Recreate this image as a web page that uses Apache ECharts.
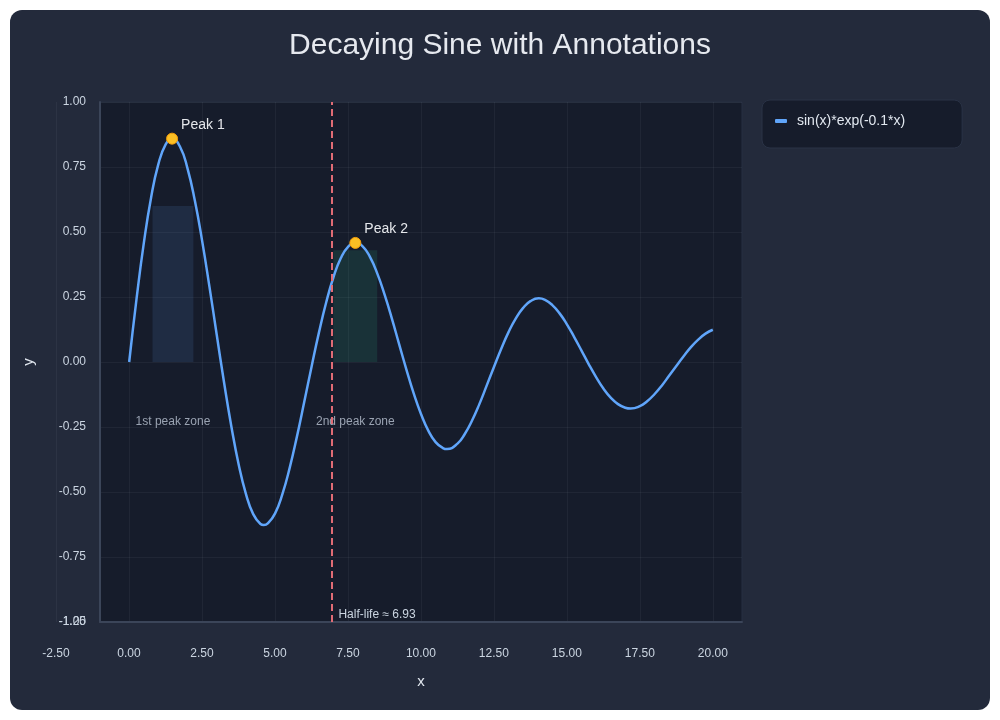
<!DOCTYPE html>
<html>
<head>
<meta charset="utf-8">
<title>Decaying Sine with Annotations</title>
<script src="https://cdn.jsdelivr.net/npm/echarts@6/dist/echarts.min.js"></script>
<style>
    html, body { margin: 0; padding: 0; background: #ffffff; }
    #chart {
        position: absolute;
        left: 10px;
        top: 10px;
        width: 980px;
        height: 700px;
        border-radius: 12px;
        background: #232a3b;
        overflow: hidden;
    }
</style>
</head>
<body>
<div id="chart"></div>
<script>
// x samples and sin(x)*exp(-0.1*x) (crests and troughs included)
const xValues = [
    0, 0.25, 0.5, 0.75, 1, 1.25, 1.471, 1.75, 2, 2.25, 2.5, 2.75, 3, 3.25, 3.5, 3.75,
    4, 4.25, 4.5, 4.613, 4.75, 5, 5.25, 5.5, 5.75, 6, 6.25, 6.5, 6.75, 7, 7.25, 7.5, 7.754,
    8, 8.25, 8.5, 8.75, 9, 9.25, 9.5, 9.75, 10, 10.25, 10.5, 10.75, 10.896, 11.25, 11.5, 11.75,
    12, 12.25, 12.5, 12.75, 13, 13.25, 13.5, 13.75, 14.037, 14.25, 14.5, 14.75, 15, 15.25, 15.5, 15.75,
    16, 16.25, 16.5, 16.75, 17, 17.179, 17.5, 17.75, 18, 18.25, 18.5, 18.75, 19, 19.25, 19.5, 19.75, 20
];
const yValues = [
    0, 0.241, 0.456, 0.632, 0.761, 0.837, 0.859, 0.826, 0.744, 0.621, 0.466, 0.290, 0.105, -0.078, -0.247, -0.393,
    -0.507, -0.585, -0.623, -0.627, -0.621, -0.582, -0.508, -0.407, -0.286, -0.153, -0.018, 0.112, 0.229, 0.326, 0.399, 0.443, 0.458,
    0.445, 0.404, 0.341, 0.260, 0.168, 0.069, -0.029, -0.121, -0.200, -0.264, -0.308, -0.331, -0.335, -0.314, -0.277, -0.225,
    -0.162, -0.091, -0.019, 0.051, 0.115, 0.168, 0.208, 0.234, 0.245, 0.239, 0.219, 0.187, 0.145, 0.096, 0.044, -0.009,
    -0.058, -0.102, -0.137, -0.162, -0.176, -0.179, -0.170, -0.151, -0.124, -0.091, -0.053, -0.015, 0.022, 0.057, 0.086, 0.109, 0.124
];

const peakNames = ['Peak 1', 'Peak 2'];
const peakX = [1.47, 7.75];
const peakY = [0.859, 0.458];

const zoneNames = ['1st peak zone', '2nd peak zone'];
const zoneStart = [0.8, 7.0];
const zoneEnd = [2.2, 8.5];
const zoneTop = [0.6, 0.43];
const zoneColors = ['rgba(96, 165, 250, 0.12)', 'rgba(52, 211, 153, 0.12)'];

const halfLife = 6.93;

// axis ranges: plot runs from -1 to 21, tick labels every 2.5 from -2.5
const xRange = [-1, 21];
const xTickRange = [-2.5, 21];
const xTickStep = 2.5;
const yRange = [-1, 1];
const yTickStep = 0.25;
const yExtraLabel = -1.25;

const chart = echarts.init(document.getElementById('chart'));

const seriesData = xValues.map((x, i) => [x, yValues[i]]);

const labelFont = 'Liberation Sans';
const gridLineColor = 'rgba(148, 163, 184, 0.08)';
const fmt2 = (v) => v.toFixed(2);

const option = {
    backgroundColor: 'transparent',
    title: {
        text: 'Decaying Sine with Annotations',
        left: 'center',
        top: 16,
        textStyle: {
            color: '#e6e9ef',
            fontSize: 30,
            fontWeight: 'normal',
            fontFamily: labelFont,
        },
    },
    legend: {
        data: ['sin(x)*exp(-0.1*x)'],
        left: 752,
        top: 90,
        orient: 'vertical',
        backgroundColor: '#161c2b',
        borderColor: '#2a3346',
        borderWidth: 1,
        borderRadius: 8,
        padding: [14, 57, 20, 13],
        icon: 'roundRect',
        itemWidth: 12,
        itemHeight: 4,
        textStyle: {
            color: '#e2e8f0',
            fontSize: 14,
            fontFamily: labelFont,
            padding: [0, 0, 0, 5],
        },
    },
    grid: [
        {
            left: 90,
            right: 248,
            top: 92,
            bottom: 88,
            containLabel: false,
            outerBoundsMode: 'none',
            show: true,
            backgroundColor: '#161c2b',
            borderColor: '#262f42',
            borderWidth: 1,
        },
        {
            left: 46,
            right: 248,
            top: 92,
            bottom: 88,
            containLabel: false,
            outerBoundsMode: 'none',
            show: false,
        },
    ],
    xAxis: [
        {
            type: 'value',
            gridIndex: 0,
            name: 'x',
            nameLocation: 'middle',
            nameGap: 52,
            nameTextStyle: { color: '#e2e8f0', fontSize: 15, fontFamily: labelFont },
            min: xRange[0],
            max: xRange[1],
            axisLine: { show: true, onZero: false, lineStyle: { color: '#3b4559', width: 2 } },
            axisTick: { show: false },
            axisLabel: { show: false },
            splitLine: { show: false },
        },
        {
            type: 'value',
            gridIndex: 1,
            min: xTickRange[0],
            max: xTickRange[1],
            interval: xTickStep,
            axisLine: { show: false },
            axisTick: { show: false },
            axisLabel: {
                color: '#cbd5e1',
                fontSize: 12,
                margin: 26,
                showMaxLabel: false,
                fontFamily: labelFont,
                formatter: fmt2,
            },
            splitLine: { show: true, showMinLine: true, showMaxLine: false, lineStyle: { color: gridLineColor, width: 1 } },
        },
    ],
    yAxis: [
        {
            type: 'value',
            gridIndex: 0,
            name: 'y',
            nameLocation: 'middle',
            nameGap: 64,
            nameTextStyle: { color: '#e2e8f0', fontSize: 15, fontFamily: labelFont },
            min: yRange[0],
            max: yRange[1],
            interval: yTickStep,
            axisLine: { show: true, onZero: false, lineStyle: { color: '#3b4559', width: 2 } },
            axisTick: { show: false },
            axisLabel: {
                color: '#cbd5e1',
                fontSize: 12,
                margin: 14,
                fontFamily: labelFont,
                formatter: fmt2,
            },
            splitLine: { show: true, lineStyle: { color: gridLineColor, width: 1 } },
        },
        {
            type: 'value',
            gridIndex: 1,
            offset: -44,
            min: yExtraLabel,
            max: yRange[1],
            interval: yTickStep,
            axisLine: { show: false },
            axisTick: { show: false },
            axisLabel: {
                color: '#cbd5e1',
                fontSize: 12,
                margin: 14,
                fontFamily: labelFont,
                formatter: (v) => (Math.abs(v - yExtraLabel) < 1e-9 ? fmt2(v) : ''),
            },
            splitLine: { show: false },
        },
    ],
    series: [
        {
            name: 'sin(x)*exp(-0.1*x)',
            type: 'line',
            xAxisIndex: 0,
            yAxisIndex: 0,
            data: seriesData,
            smooth: true,
            showSymbol: false,
            symbol: 'none',
            lineStyle: { color: '#60a5fa', width: 2.5 },
            itemStyle: { color: '#60a5fa' },
            z: 3,
            markPoint: {
                symbol: 'circle',
                symbolSize: 11,
                itemStyle: { color: '#fbbf24', borderColor: '#f59e0b', borderWidth: 1 },
                label: {
                    show: true,
                    position: [15, -15],
                    color: '#e5e7eb',
                    fontSize: 14,
                    fontFamily: labelFont,
                    formatter: (p) => p.name,
                },
                data: peakNames.map((name, i) => ({ name, coord: [peakX[i], peakY[i]] })),
            },
            markLine: {
                silent: true,
                symbol: 'none',
                lineStyle: { color: '#e06c75', type: [7, 4], width: 2 },
                label: {
                    show: true,
                    position: 'start',
                    align: 'left',
                    verticalAlign: 'bottom',
                    offset: [7, -6],
                    color: '#cbd5e1',
                    fontSize: 12,
                    fontFamily: labelFont,
                    formatter: 'Half-life ≈ ' + halfLife.toFixed(2),
                },
                data: [{ xAxis: halfLife }],
            },
            markArea: {
                silent: true,
                label: {
                    show: true,
                    position: 'bottom',
                    distance: 54,
                    color: '#9aa3b2',
                    fontSize: 12,
                    fontFamily: labelFont,
                },
                data: zoneNames.map((name, i) => [
                    { name, xAxis: zoneStart[i], yAxis: 0, itemStyle: { color: zoneColors[i] } },
                    { xAxis: zoneEnd[i], yAxis: zoneTop[i] },
                ]),
            },
        },
    ],
};

chart.setOption(option);
window.addEventListener('resize', () => chart.resize());
</script>
</body>
</html>
